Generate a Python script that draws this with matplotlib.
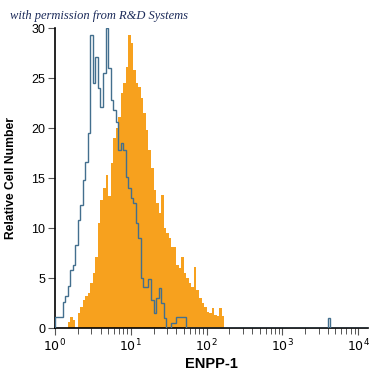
import numpy as np
import matplotlib
matplotlib.use("Agg")
import matplotlib.pyplot as plt
from matplotlib import font_manager as fm

# ---- data: counts per bin, bins are 1/30 decade wide starting at 10^0 ----
bins_per_decade = 30
isotype_counts = [
    1.1, 1.1, 1.1, 2.6, 3.2, 4.2, 5.8, 6.3, 8.3, 10.8,
    12.3, 14.8, 16.6, 19.5, 29.3, 24.5, 27.1, 24.0, 22.1, 25.5,
    30.0, 26.0, 22.8, 21.8, 20.6, 17.8, 18.5, 17.8, 15.1, 14.0,
    13.0, 12.5, 10.5, 9.0, 5.0, 4.1, 4.1, 4.9, 2.8, 1.5,
    3.0, 4.0, 2.5, 1.0, 0.0, 0.0, 0.5, 0.5, 1.1, 1.1,
    1.1, 1.1, 0.0, 0.0, 0.0, 0.0, 0.0, 0.0, 0.0, 0.0,
    0.0, 0.0, 0.0, 0.0, 0.0, 0.0, 0.0, 0.0, 0.0, 0.0,
    0.0, 0.0, 0.0, 0.0, 0.0, 0.0, 0.0, 0.0, 0.0, 0.0,
    0.0, 0.0, 0.0, 0.0, 0.0, 0.0, 0.0, 0.0, 0.0, 0.0,
    0.0, 0.0, 0.0, 0.0, 0.0, 0.0, 0.0, 0.0, 0.0, 0.0,
    0.0, 0.0, 0.0, 0.0, 0.0, 0.0, 0.0, 0.0, 1.0, 0.0,
    0.0, 0.0, 0.0, 0.0, 0.0, 0.0, 0.0, 0.0, 0.0, 0.0,
    0.0, 0.0, 0.0, 0.0,
]
enpp1_counts = [
    0.0, 0.0, 0.0, 0.0, 0.0, 0.6, 1.1, 0.8, 0.0, 1.5,
    2.1, 2.8, 3.2, 3.5, 4.5, 5.5, 7.1, 10.5, 12.8, 14.0,
    15.3, 13.2, 16.5, 19.0, 20.0, 21.1, 23.5, 24.5, 26.1, 29.3,
    28.5, 25.8, 24.5, 24.1, 23.0, 21.5, 19.8, 17.8, 16.0, 13.8,
    12.5, 11.5, 13.3, 10.0, 9.5, 9.0, 8.1, 8.1, 6.3, 6.0,
    7.1, 5.5, 5.0, 4.5, 4.1, 6.1, 3.8, 3.0, 2.5, 2.1,
    1.6, 1.5, 2.0, 1.3, 1.2, 2.0, 1.2,
]
y_ticks = [0, 5, 10, 15, 20, 25, 30]
x_major = [1e0, 1e1, 1e2, 1e3, 1e4]
x_labels = ["$10^0$", "$10^1$", "$10^2$", "$10^3$", "$10^4$"]

available = {f.name for f in fm.fontManager.ttflist}
narrow = "Liberation Sans Narrow" if "Liberation Sans Narrow" in available else "Liberation Sans"

fig = plt.figure(figsize=(3.75, 3.75), dpi=100)
ax = fig.add_axes([0.1467, 0.1253, 0.8346, 0.8])

edges_iso = np.power(10.0, np.arange(len(isotype_counts) + 1) / bins_per_decade)
edges_enp = np.power(10.0, np.arange(len(enpp1_counts) + 1) / bins_per_decade)

ax.stairs(enpp1_counts, edges_enp, fill=True, color="#F7A11E", linewidth=0, zorder=2)
ax.stairs(isotype_counts, edges_iso, fill=False, color="#436F8E", linewidth=1.0,
          baseline=0, zorder=3)

ax.set_xscale("log")
ax.set_xlim(1, 10 ** 4.13)
ax.set_ylim(0, 30)

for s in ["top", "right"]:
    ax.spines[s].set_visible(False)
for s in ["left", "bottom"]:
    ax.spines[s].set_linewidth(1.2)
    ax.spines[s].set_color("black")

ax.set_yticks(y_ticks)
ax.set_yticklabels([str(v) for v in y_ticks], fontfamily=narrow, fontsize=9)
ax.set_xticks(x_major)
ax.set_xticklabels(x_labels, fontfamily=narrow, fontsize=9)
ax.xaxis.set_minor_locator(matplotlib.ticker.LogLocator(base=10, subs=np.arange(2, 10)))
ax.xaxis.set_minor_formatter(matplotlib.ticker.NullFormatter())
ax.tick_params(axis="both", which="major", direction="out", length=5, width=0.8, color="#555555", pad=2)
ax.tick_params(axis="x", which="minor", direction="out", length=4, width=0.7, color="#555555")

ax.set_xlabel("ENPP-1", fontfamily=narrow, fontweight="bold", fontsize=10.5, labelpad=2)
ax.set_ylabel("Relative Cell Number", fontfamily=narrow, fontweight="bold", fontsize=8.7, labelpad=10)

fig.text(0.027, 0.958, "with permission from R&D Systems", fontfamily="Liberation Serif",
         fontstyle="italic", fontsize=9, color="#1C2B5A", va="center", ha="left")

fig.savefig("out.png", dpi=100)
